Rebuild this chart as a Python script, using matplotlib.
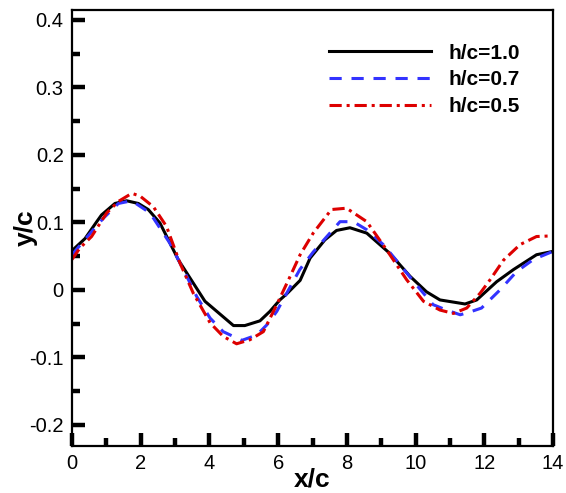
import numpy as np
import matplotlib
matplotlib.use("Agg")
import matplotlib.pyplot as plt
from matplotlib.ticker import MultipleLocator

plt.rcParams['font.family'] = ['Liberation Sans', 'DejaVu Sans']

# data
x_10 = [0.0, 0.38, 0.72, 0.86, 1.25, 1.59, 1.93, 2.22, 2.56, 3.1, 3.34, 3.87, 4.7,
        5.03, 5.47, 5.76, 6.05, 6.25, 6.64, 6.93, 7.36, 7.7, 8.09, 8.58, 9.25,
        9.84, 10.32, 10.71, 11.44, 11.78, 12.36, 12.85, 13.52, 14.0]
y_10 = [0.058, 0.076, 0.101, 0.111, 0.128, 0.132, 0.128, 0.119, 0.099, 0.044,
        0.025, -0.017, -0.053, -0.053, -0.046, -0.032, -0.015, -0.006, 0.014,
        0.047, 0.074, 0.088, 0.092, 0.084, 0.054, 0.020, -0.003, -0.015, -0.021,
        -0.015, 0.012, 0.030, 0.052, 0.057]

x_07 = [0.0, 0.62, 0.91, 1.35, 1.74, 2.27, 2.85, 3.34, 3.63, 4.02, 4.4, 4.94, 5.38,
        5.67, 5.96, 6.25, 6.63, 7.02, 7.8, 8.19, 8.58, 9.06, 9.55, 9.98, 10.51,
        10.9, 11.3, 11.63, 11.92, 12.46, 12.94, 13.43, 14.0]
y_07 = [0.052, 0.089, 0.106, 0.128, 0.132, 0.114, 0.069, 0.020, -0.010, -0.042,
        -0.062, -0.075, -0.067, -0.052, -0.032, -0.005, 0.030, 0.056, 0.101, 0.101,
        0.089, 0.067, 0.037, 0.010, -0.022, -0.030, -0.037, -0.032, -0.027, 0.0,
        0.027, 0.045, 0.057]

x_05 = [0.0, 0.23, 0.57, 1.01, 1.35, 1.74, 1.98, 2.37, 2.75, 3.14, 3.53, 4.02, 4.4,
        4.79, 5.18, 5.57, 5.96, 6.35, 6.64, 7.02, 7.55, 7.99, 8.58, 9.16, 9.74,
        10.23, 10.71, 11.1, 11.49, 11.88, 12.17, 12.56, 13.04, 13.52, 14.0]
y_05 = [0.045, 0.062, 0.079, 0.114, 0.131, 0.143, 0.139, 0.123, 0.094, 0.040,
        -0.005, -0.049, -0.069, -0.080, -0.074, -0.062, -0.022, 0.020, 0.052,
        0.084, 0.119, 0.121, 0.101, 0.059, 0.015, -0.017, -0.030, -0.035, -0.027,
        -0.005, 0.015, 0.044, 0.067, 0.079, 0.080]

labels = ['h/c=1.0', 'h/c=0.7', 'h/c=0.5']

fig = plt.figure(figsize=(5.66, 4.93), dpi=100)
ax = fig.add_axes([72/566, 47/493, 481/566, 436.5/493])

ax.plot(x_10, y_10, color='black', lw=2.2, label=labels[0])
ax.plot(x_07, y_07, color='#3333ff', lw=2.2, dashes=(4, 3.2), label=labels[1])
ax.plot(x_05, y_05, color='#dd0000', lw=2.2, dashes=(4, 1.6, 1, 1.6), label=labels[2])

ax.set_xlim(0, 14)
ax.set_ylim(-0.2315, 0.4155)
ax.xaxis.set_major_locator(MultipleLocator(2))
ax.xaxis.set_minor_locator(MultipleLocator(1))
ax.yaxis.set_minor_locator(MultipleLocator(0.05))
ax.set_yticks(np.arange(-0.2, 0.41, 0.1))
ax.set_yticklabels(['-0.2', '-0.1', '0', '0.1', '0.2', '0.3', '0.4'])

ax.tick_params(which='both', direction='in', top=False, right=False, width=3.2,
               labelsize=14.5)
ax.tick_params(which='major', length=9.5, pad=6)
ax.tick_params(which='minor', length=6)
for s in ax.spines.values():
    s.set_linewidth(1.6)

ax.set_xlabel('x/c', fontsize=19, fontweight='bold', labelpad=-4)
ax.set_ylabel('y/c', fontsize=19, fontweight='bold', labelpad=-6)

ax.legend(loc='upper right', bbox_to_anchor=(0.97, 0.965), frameon=False,
          handlelength=4.9, handletextpad=0.85, labelspacing=0.38,
          prop={'weight': 'bold', 'size': 15})

fig.savefig('out.png', dpi=100)
